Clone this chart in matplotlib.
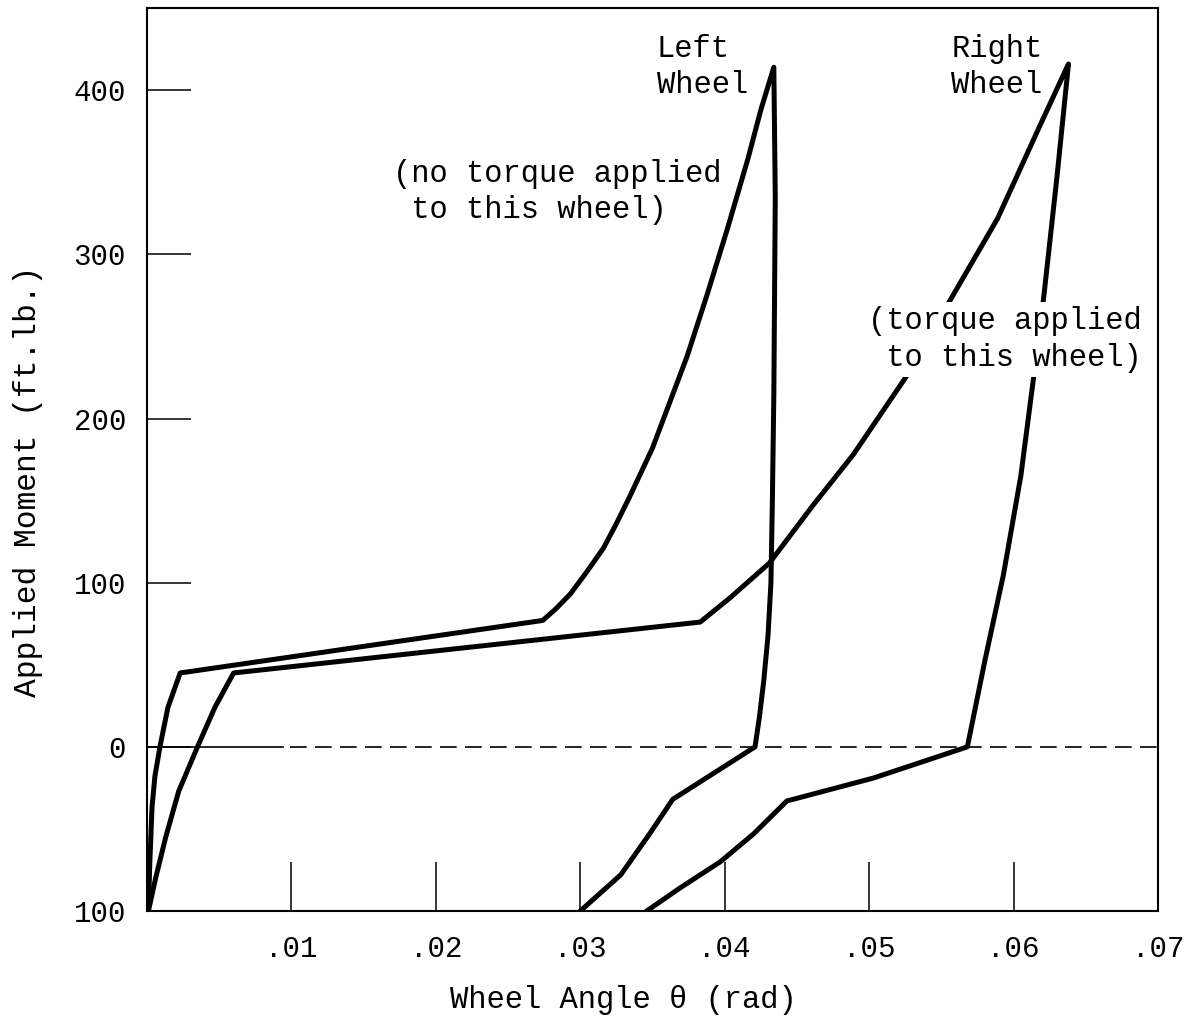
import matplotlib
matplotlib.use("Agg")
import matplotlib.pyplot as plt

plt.rcParams['font.family'] = ['Liberation Mono', 'DejaVu Sans Mono']

# left wheel (no torque applied): wheel angle (rad), applied moment (ft.lb.)
left_x = [0.0001, 0.00015, 0.0002, 0.00035, 0.00055, 0.0009, 0.00145, 0.0023,
          0.0274, 0.0283, 0.0293, 0.0304, 0.0316, 0.0325, 0.0334, 0.0342,
          0.0350, 0.0362, 0.0374, 0.0388, 0.0402, 0.0416, 0.0425, 0.0434,
          0.0435, 0.0434, 0.0433, 0.0432, 0.0430, 0.0427, 0.0424, 0.0421,
          0.0364, 0.0348, 0.0328, 0.0300]
left_y = [-100, -85, -70, -37, -18, 0, 24, 45,
          77, 84, 93, 106, 121, 136, 152, 167,
          182, 210, 238, 276, 316, 358, 388, 414,
          335, 214, 150, 100, 68, 40, 18, 0,
          -32, -53, -78, -100]

# right wheel (torque applied)
right_x = [0.0001, 0.0006, 0.0013, 0.0022, 0.0035, 0.0047, 0.0060,
           0.0383, 0.0404, 0.0431, 0.0461, 0.0489, 0.0526, 0.0558, 0.0589,
           0.0618, 0.0638,
           0.0630, 0.0621, 0.0614, 0.0605, 0.0593, 0.0580, 0.0568,
           0.0503, 0.0443, 0.0420, 0.0397, 0.0369, 0.0346]
right_y = [-100, -80, -55, -27, 0, 24, 45,
           76, 91, 112, 147, 178, 226, 275, 322,
           378, 416,
           347, 275, 226, 165, 105, 52, 0,
           -19, -33, -53, -70, -86, -100]

y_ticks = [400, 300, 200, 100, 0, -100]
y_labels = ['400', '300', '200', '100', '0', '100']
x_ticks = [0.01, 0.02, 0.03, 0.04, 0.05, 0.06, 0.07]
x_labels = ['.01', '.02', '.03', '.04', '.05', '.06', '.07']

fig = plt.figure(figsize=(11.87, 10.19), dpi=100)
ax = fig.add_axes([0.1238, 0.106, 0.8518, 0.886])

# zero line: solid near the origin, dashed beyond
ax.plot([0, 0.0094], [0, 0], color='black', lw=1.2)
ax.plot([0.0099, 0.07], [0, 0], color='black', lw=1.2, dashes=(10, 5))

ax.plot(left_x, left_y, color='black', lw=3.6)
ax.plot(right_x, right_y, color='black', lw=3.6)

ax.set_xlim(0, 0.07)
ax.set_ylim(-100, 450)
ax.set_yticks(y_ticks)
ax.set_yticklabels(y_labels)
ax.set_xticks(x_ticks)
ax.set_xticklabels(x_labels)
ax.tick_params(axis='y', direction='in', length=32, width=1.1, pad=15, labelsize=21)
ax.tick_params(axis='x', direction='in', length=35, width=1.1, pad=17, labelsize=21)
for s in ax.spines.values():
    s.set_linewidth(1.5)

ax.set_xlabel('Wheel Angle \u03b8 (rad)', fontsize=22)
ax.xaxis.set_label_coords(0.471, -0.082)
ax.set_ylabel('Applied Moment (ft.lb.)', fontsize=22.5)
ax.yaxis.set_label_coords(-0.103, 0.476)

ax.text(0.0353, 414, 'Left\nWheel', fontsize=22, ha='left', va='center', linespacing=1.25)
ax.text(0.0557, 414, 'Right\nWheel', fontsize=22, ha='left', va='center', linespacing=1.25)
ax.text(0.0170, 338, '(no torque applied\n to this wheel)', fontsize=22,
        ha='left', va='center', linespacing=1.3)
ax.text(0.0499, 248, '(torque applied\n to this wheel)', fontsize=22,
        ha='left', va='center', linespacing=1.3, zorder=5,
        bbox=dict(facecolor='white', edgecolor='none', pad=3))

fig.savefig('out.png', dpi=100)
